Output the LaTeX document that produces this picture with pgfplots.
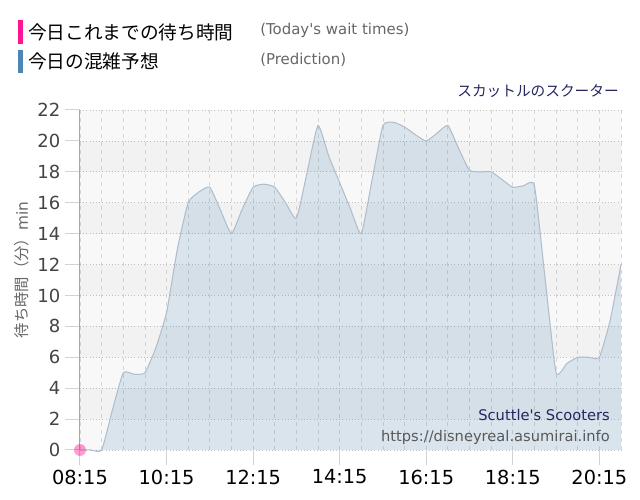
\documentclass[border=0pt]{standalone}
\usepackage{fontspec}
\setmainfont{DejaVu Sans}
\newfontfamily\jp{Noto Sans CJK JP}
\usepackage{pgfplots}
\pgfplotsset{compat=1.18}
\usepackage{pgfplotstable}

\definecolor{bgLight}{HTML}{F8F8F8}
\definecolor{tickGray}{HTML}{D2D2D2}
\definecolor{areaBlue}{HTML}{4682B4}
\definecolor{areaLine}{HTML}{AEBCCB}
\definecolor{todayPink}{HTML}{FF1493}
\definecolor{legendBlue}{HTML}{4A86B8}
\definecolor{navy}{HTML}{25255F}
\definecolor{labelGray}{HTML}{444444}

% minutes after 08:15, predicted wait (min)
\pgfplotstableread{
t w
0 0
15 0
30 0
45 2.6
60 5
75 4.9
90 5
105 6.6
120 8.9
135 13
150 16
165 16.7
180 17
195 15.5
210 14
225 15.6
240 17
255 17.2
270 17
285 16
300 15
315 18
330 21
345 19
360 17.3
375 15.6
390 14
405 17.5
420 21
435 21.2
450 20.9
465 20.4
480 20
495 20.5
510 21
525 19.5
540 18.1
555 18
570 18
585 17.5
600 17
615 17.1
630 17.1
645 11
660 5
675 5.6
690 6
705 6
720 6
735 8.4
750 12
}\pred

\begin{document}
\begin{tikzpicture}
\begin{axis}[
  at={(60pt,37.5pt)}, anchor=south west,
  scale only axis, width=405.75pt, height=255pt,
  xmin=0, xmax=750, ymin=0, ymax=22,
  axis x line*=bottom, axis y line*=left,
  x axis line style={draw=none},
  y axis line style={draw=black!35, line width=0.75pt},
  axis background/.style={fill=bgLight},
  xtick={0,120,...,720},
  xticklabels={08:15,10:15,12:15,14:15,16:15,18:15,20:15},
  minor xtick={30,60,...,750},
  ytick={0,2,...,22},
  tick align=outside,
  major tick length=11.25pt, minor tick length=0pt,
  tick style={draw=tickGray, line width=0.75pt},
  xmajorgrids, xminorgrids, ymajorgrids,
  x grid style={draw=black!16, dash pattern=on 3pt off 3pt, line width=0.6pt},
  y grid style={draw=black!25, dotted, line width=0.6pt},
  yticklabel style={font=\fontsize{13.5}{14}\selectfont, text=labelGray},
  xticklabel style={font=\fontsize{14.5}{15}\selectfont, text=black},
  /pgf/number format/assume math mode=true,
  clip=false,
]
\fill[black, fill opacity=0.025] (axis cs:0,2) rectangle (axis cs:750,4);
\fill[black, fill opacity=0.025] (axis cs:0,6) rectangle (axis cs:750,8);
\fill[black, fill opacity=0.025] (axis cs:0,10) rectangle (axis cs:750,12);
\fill[black, fill opacity=0.025] (axis cs:0,14) rectangle (axis cs:750,16);
\fill[black, fill opacity=0.025] (axis cs:0,18) rectangle (axis cs:750,20);

\addplot[draw=none, fill=areaBlue, fill opacity=0.17, smooth, tension=0.3]
  table[x=t, y=w] {\pred} \closedcycle;
\addplot[areaLine, line width=0.75pt, smooth, tension=0.3]
  table[x=t, y=w] {\pred};

\addplot[only marks, mark=*, mark size=4.5pt, color=todayPink,
  mark options={fill=todayPink, fill opacity=0.42, draw opacity=0}]
  coordinates {(0,0)};
\end{axis}

% legend
\fill[todayPink] (13.5pt,342pt) rectangle (17.25pt,360pt);
\fill[legendBlue] (13.5pt,320.25pt) rectangle (17.25pt,337.5pt);
\node[anchor=west, inner sep=0] at (21pt,351pt)
  {\jp\fontsize{14}{14}\selectfont 今日これまでの待ち時間};
\node[anchor=west, inner sep=0] at (21pt,329.25pt)
  {\jp\fontsize{14}{14}\selectfont 今日の混雑予想};
\node[anchor=west, inner sep=0, text=black!60] at (195pt,352pt)
  {\fontsize{11.2}{12}\selectfont (Today\textquotesingle s wait times)};
\node[anchor=west, inner sep=0, text=black!60] at (195pt,330pt)
  {\fontsize{11.2}{12}\selectfont (Prediction)};

% title and y label
\node[anchor=east, inner sep=0, text=navy] at (464.25pt,307pt)
  {\jp\fontsize{11}{11}\selectfont スカットルのスクーター};
\node[rotate=90, inner sep=0, text=black!60] at (16.5pt,172.5pt)
  {\fontsize{11.5}{12}\selectfont{\jp 待ち時間（分）}min};

% watermark
\node[anchor=east, inner sep=0, text=navy] at (457.5pt,63.75pt)
  {\fontsize{11}{12}\selectfont Scuttle\textquotesingle s Scooters};
\node[anchor=east, inner sep=0, text=black!65] at (457.5pt,47.25pt)
  {\fontsize{11}{12}\selectfont https://disneyreal.asumirai.info};

\pgfresetboundingbox
\path[use as bounding box] (0,0) rectangle (480pt,375pt);
\end{tikzpicture}
\end{document}
